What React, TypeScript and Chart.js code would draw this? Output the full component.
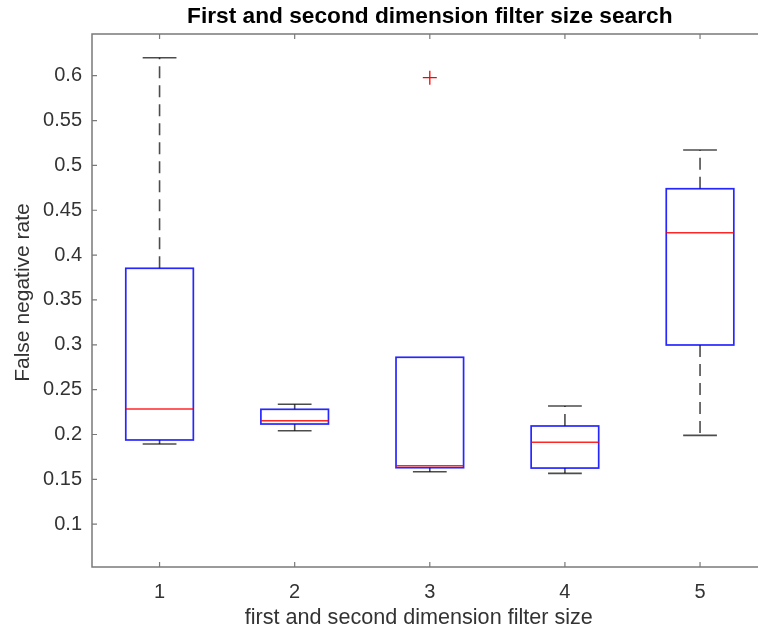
import React, { useEffect, useRef } from 'react';
import { Chart, registerables } from 'chart.js';

Chart.register(...registerables);

// ---- Data ----
const categories = [1, 2, 3, 4, 5];
const xTickLabels = ['1', '2', '3', '4', '5'];
const whiskerLow = [0.1894, 0.2042, 0.1585, 0.1567, 0.199];
const q1 = [0.1939, 0.2117, 0.163, 0.1626, 0.2998];
const medians = [0.2284, 0.2154, 0.1652, 0.1913, 0.425];
const q3 = [0.3853, 0.2281, 0.2861, 0.2095, 0.474];
const whiskerHigh = [0.62, 0.2337, 0.2861, 0.2318, 0.5172];
const outlierX = [3];
const outlierY = [0.5978];
const yTicks = [0.1, 0.15, 0.2, 0.25, 0.3, 0.35, 0.4, 0.45, 0.5, 0.55, 0.6];

const TITLE = 'First and second dimension filter size search';
const X_LABEL = 'first and second dimension filter size';
const Y_LABEL = 'False negative rate';

const BOX_WIDTH = 0.5;
const CAP_WIDTH = 0.25;
const FONT = '"Liberation Sans", Arial, Helvetica, sans-serif';

const boxPlotPlugin = {
  id: 'boxPlot',
  beforeDatasetsDraw(chart: any) {
    const { ctx, scales } = chart;
    const x = scales.x;
    const y = scales.y;
    ctx.save();
    ctx.lineCap = 'butt';
    categories.forEach((c, i) => {
      const xl = x.getPixelForValue(c - BOX_WIDTH / 2);
      const xr = x.getPixelForValue(c + BOX_WIDTH / 2);
      const xc = x.getPixelForValue(c);
      const cl = x.getPixelForValue(c - CAP_WIDTH / 2);
      const cr = x.getPixelForValue(c + CAP_WIDTH / 2);
      const pq1 = y.getPixelForValue(q1[i]);
      const pq3 = y.getPixelForValue(q3[i]);
      const pmed = y.getPixelForValue(medians[i]);
      const pwl = y.getPixelForValue(whiskerLow[i]);
      const pwh = y.getPixelForValue(whiskerHigh[i]);

      ctx.strokeStyle = 'rgba(0,0,0,0.7)';
      ctx.lineWidth = 1.6;
      ctx.setLineDash([12, 7]);
      if (whiskerHigh[i] > q3[i]) {
        ctx.beginPath();
        ctx.moveTo(xc, pq3);
        ctx.lineTo(xc, pwh);
        ctx.stroke();
      }
      if (whiskerLow[i] < q1[i]) {
        ctx.beginPath();
        ctx.moveTo(xc, pq1);
        ctx.lineTo(xc, pwl);
        ctx.stroke();
      }
      ctx.setLineDash([]);
      if (whiskerHigh[i] > q3[i]) {
        ctx.beginPath();
        ctx.moveTo(cl, pwh);
        ctx.lineTo(cr, pwh);
        ctx.stroke();
      }
      if (whiskerLow[i] < q1[i]) {
        ctx.beginPath();
        ctx.moveTo(cl, pwl);
        ctx.lineTo(cr, pwl);
        ctx.stroke();
      }
      ctx.strokeStyle = 'rgba(0,0,255,0.85)';
      ctx.lineWidth = 1.7;
      ctx.strokeRect(xl, pq3, xr - xl, pq1 - pq3);
      ctx.strokeStyle = 'rgba(255,0,0,0.85)';
      ctx.lineWidth = 1.6;
      ctx.beginPath();
      ctx.moveTo(xl, pmed);
      ctx.lineTo(xr, pmed);
      ctx.stroke();
    });
    ctx.restore();
  },
  afterDraw(chart: any) {
    const { ctx, chartArea, scales } = chart;
    const { left, right, top, bottom } = chartArea;
    ctx.save();
    // axes frame and inward ticks
    ctx.strokeStyle = '#7a7a7a';
    ctx.lineWidth = 1.5;
    ctx.strokeRect(left, top, right - left, bottom - top);
    ctx.lineWidth = 1.2;
    const tl = 5;
    ctx.beginPath();
    yTicks.forEach((v) => {
      const py = scales.y.getPixelForValue(v);
      ctx.moveTo(left, py);
      ctx.lineTo(left + tl, py);
      ctx.moveTo(right, py);
      ctx.lineTo(right - tl, py);
    });
    categories.forEach((c) => {
      const px = scales.x.getPixelForValue(c);
      ctx.moveTo(px, bottom);
      ctx.lineTo(px, bottom - tl);
      ctx.moveTo(px, top);
      ctx.lineTo(px, top + tl);
    });
    ctx.stroke();

    // title
    const cx = (left + right) / 2;
    ctx.fillStyle = '#000000';
    ctx.textAlign = 'center';
    ctx.textBaseline = 'alphabetic';
    ctx.font = `bold 22.7px ${FONT}`;
    ctx.fillText(TITLE, cx, 23.3);

    // x axis label
    ctx.fillStyle = '#333333';
    ctx.font = `21.6px ${FONT}`;
    ctx.fillText(X_LABEL, cx - 11, 624);

    // y axis label
    ctx.font = `21px ${FONT}`;
    ctx.translate(28.5, (top + bottom) / 2 - 8);
    ctx.rotate(-Math.PI / 2);
    ctx.fillText(Y_LABEL, 0, 0);
    ctx.restore();
  },
};

export default function App() {
  const canvasRef = useRef<HTMLCanvasElement | null>(null);

  useEffect(() => {
    document.body.style.margin = '0';
    document.body.style.overflow = 'hidden';
    document.documentElement.style.overflow = 'hidden';
    const canvas = canvasRef.current;
    if (!canvas) return;
    const chart = new Chart(canvas, {
      type: 'scatter',
      data: {
        datasets: [
          {
            data: outlierX.map((xv, i) => ({ x: xv, y: outlierY[i] })),
            pointStyle: 'cross',
            radius: 7,
            borderColor: '#ff0000',
            backgroundColor: '#ff0000',
            borderWidth: 1.3,
          },
        ],
      },
      options: {
        responsive: false,
        animation: false,
        layout: { padding: { left: 0, right: 32.4, top: 34, bottom: 0 } },
        plugins: {
          legend: { display: false },
          tooltip: { enabled: false },
          title: { display: false },
        },
        scales: {
          x: {
            type: 'linear',
            min: 0.5,
            max: 5.5,
            afterBuildTicks: (s: any) => {
              s.ticks = categories.map((v) => ({ value: v }));
            },
            afterFit: (s: any) => {
              s.height = 67;
            },
            ticks: {
              callback: (v: any) => {
                const idx = categories.indexOf(Number(v));
                return idx >= 0 ? xTickLabels[idx] : '';
              },
              autoSkip: false,
              maxRotation: 0,
              color: '#333333',
              font: { family: FONT, size: 20 },
              padding: 13,
            },
            grid: { display: false, drawTicks: false },
            border: { display: false },
          },
          y: {
            type: 'linear',
            min: 0.0523,
            max: 0.6465,
            afterBuildTicks: (s: any) => {
              s.ticks = yTicks.map((v) => ({ value: v }));
            },
            afterFit: (s: any) => {
              s.width = 92;
            },
            ticks: {
              callback: (v: any) => String(parseFloat(Number(v).toFixed(2))),
              color: '#333333',
              font: { family: FONT, size: 20 },
              padding: 10,
            },
            grid: { display: false, drawTicks: false },
            border: { display: false },
          },
        },
      },
      plugins: [boxPlotPlugin],
    } as any);
    return () => {
      chart.destroy();
    };
  }, []);

  return (
    <div style={{ position: 'absolute', left: 0, top: 0, width: 800, height: 634, overflow: 'hidden', background: '#ffffff' }}>
      <canvas ref={canvasRef} width={800} height={634} style={{ display: 'block', width: 800, height: 634 }} />
    </div>
  );
}
